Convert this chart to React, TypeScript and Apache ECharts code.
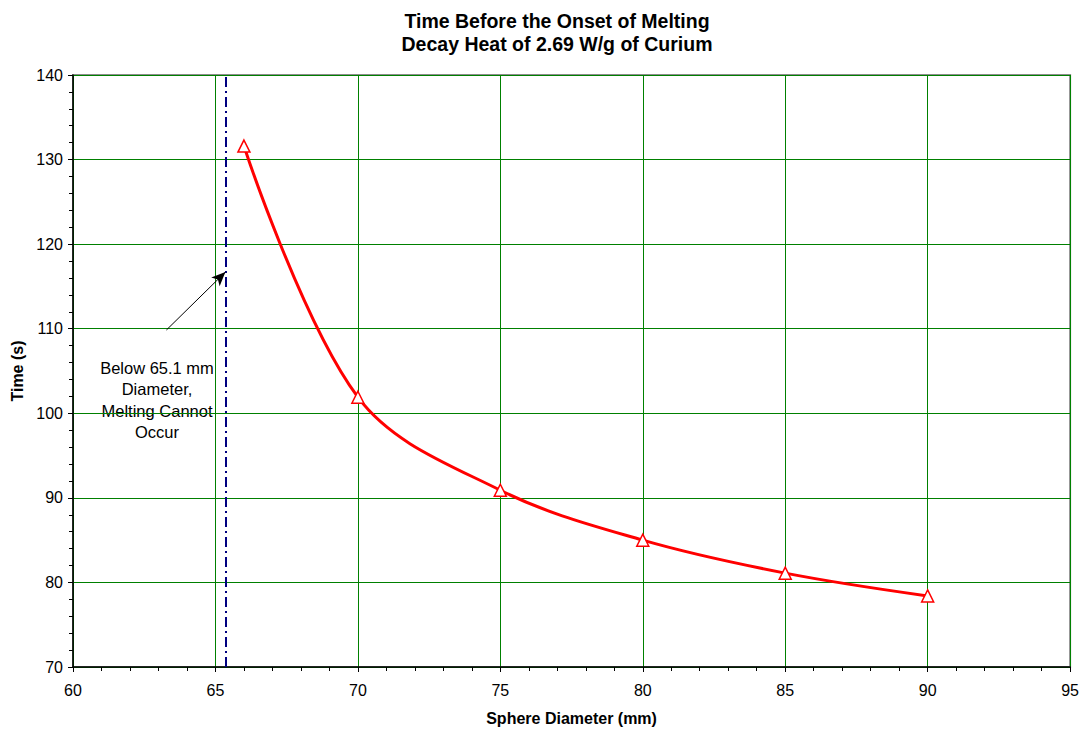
import React, { useEffect, useRef } from "react";
import * as echarts from "echarts";

const diameters = [66, 70, 75, 80, 85, 90];
const times = [131.6, 101.9, 90.9, 85.0, 81.1, 78.4];
const limitDiameter = 65.35;
const arrowStart = [63.28, 109.85];
const arrowEnd = [65.35, 116.7];
const noteLines = ["Below 65.1 mm", "Diameter,", "Melting Cannot", "Occur"];
const titleLines = ["Time Before the Onset of Melting", "Decay Heat of 2.69 W/g of Curium"];

export default function App() {
  const ref = useRef<HTMLDivElement>(null);
  useEffect(() => {
    const chart = echarts.init(ref.current!, null, { renderer: "svg" });
    const font = "Arial, 'Liberation Sans', sans-serif";
    chart.setOption({
      animation: false,
      backgroundColor: "#ffffff",
      title: {
        text: titleLines.join("\n"),
        left: 552,
        textAlign: "center",
        top: 4,
        textStyle: { fontFamily: font, fontSize: 19.5, fontWeight: "bold", color: "#000", lineHeight: 23 },
      },
      grid: {
        left: 73,
        right: 11,
        top: 75,
        bottom: 64,
        show: true,
        borderColor: "#8c8c8c",
        borderWidth: 2,
      },
      xAxis: {
        type: "value",
        min: 60,
        max: 95,
        interval: 5,
        name: "Sphere Diameter (mm)",
        nameLocation: "middle",
        nameGap: 43,
        nameTextStyle: { fontFamily: font, fontSize: 16, fontWeight: "bold", color: "#000" },
        axisLine: { lineStyle: { color: "#000", width: 1.5 } },
        axisTick: { show: true, length: 5, lineStyle: { color: "#000" } },
        minorTick: { show: true, splitNumber: 5, length: 4, lineStyle: { color: "#000" } },
        axisLabel: { fontFamily: font, fontSize: 16, color: "#000", margin: 15 },
        splitLine: { show: true, lineStyle: { color: "#008000", width: 1 } },
      },
      yAxis: {
        type: "value",
        min: 70,
        max: 140,
        interval: 10,
        name: "Time (s)",
        nameLocation: "middle",
        nameGap: 48,
        nameRotate: 90,
        nameTextStyle: { fontFamily: font, fontSize: 16, fontWeight: "bold", color: "#000" },
        axisLine: { show: true, lineStyle: { color: "#000", width: 1.5 } },
        axisTick: { show: true, length: 5, lineStyle: { color: "#000" } },
        minorTick: { show: true, splitNumber: 5, length: 4, lineStyle: { color: "#000" } },
        axisLabel: { fontFamily: font, fontSize: 16, color: "#000", margin: 10 },
        splitLine: { show: true, lineStyle: { color: "#008000", width: 1 } },
      },
      series: [
        {
          type: "line",
          data: diameters.map((d, i) => [d, times[i]]),
          smooth: 0.35,
          symbol: "triangle",
          symbolSize: 12,
          showAllSymbol: true,
          lineStyle: { color: "#ff0000", width: 3 },
          itemStyle: { color: "#ffffff", borderColor: "#ff0000", borderWidth: 1.5 },
          z: 5,
          markLine: {
            silent: true,
            symbol: ["none", "none"],
            label: { show: false },
            lineStyle: { color: "#000080", width: 2, type: [10, 4, 2, 4] },
            data: [
              { xAxis: limitDiameter },
              [
                { coord: arrowStart, symbol: "none", lineStyle: { color: "#000", width: 1, type: "solid" } },
                { coord: arrowEnd, symbol: "arrow", symbolSize: [9, 14] },
              ],
            ],
          },
        },
      ],
      graphic: [
        {
          type: "text",
          x: 157,
          y: 357,
          style: {
            text: noteLines.join("\n"),
            fontFamily: font,
            fontSize: 16.5,
            lineHeight: 21.5,
            fill: "#000",
            align: "center",
            verticalAlign: "top",
          },
        },
      ],
    });
    return () => chart.dispose();
  }, []);
  return <div ref={ref} style={{ width: 1082, height: 731, position: "absolute", left: 0, top: 0 }} />;
}
